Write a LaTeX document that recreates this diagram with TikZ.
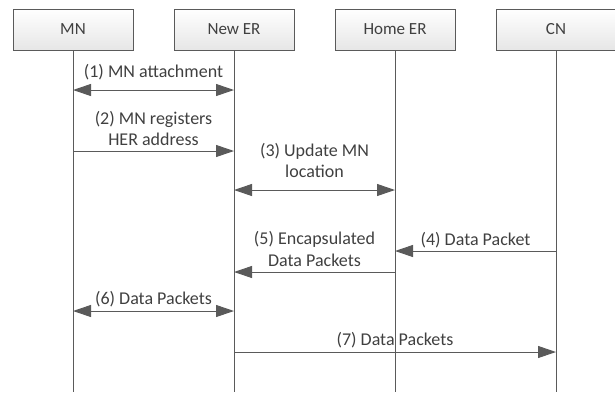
\documentclass[tikz,border=0pt]{standalone}
\usepackage{fontspec}
\setmainfont{Carlito}
\usetikzlibrary{arrows.meta}
\definecolor{linegray}{HTML}{5A5A5A}
\definecolor{textgray}{HTML}{404040}
\definecolor{boxbottom}{HTML}{E6E6E6}
\tikzset{
  actor/.style={draw=linegray, line width=1pt, top color=white, bottom color=boxbottom,
    minimum width=120pt, minimum height=41pt, inner sep=0pt,
    font=\fontsize{17}{21}\selectfont, text=textgray},
  lifeline/.style={draw=linegray, line width=1pt},
  msg/.style={draw=linegray, line width=1pt, -{Triangle[length=18pt,width=12pt]}},
  dmsg/.style={draw=linegray, line width=1pt, {Triangle[length=18pt,width=12pt]}-{Triangle[length=18pt,width=12pt]}},
  lbl/.style={font=\fontsize{18}{21.5}\selectfont, text=textgray, align=center, inner sep=0pt}
}
\begin{document}
\begin{tikzpicture}[x=1pt,y=-1pt]
\useasboundingbox (0,0) rectangle (615,392);
% actors
\node[actor] (mn)  at (73,29.5)  {MN};
\node[actor] (ner) at (234,29.5) {New ER};
\node[actor] (her) at (395,29.5) {Home ER};
\node[actor] (cn)  at (556,29.5) {CN};
% lifeline ends
\coordinate (mnend)  at (73,392);
\coordinate (nerend) at (234,392);
\coordinate (herend) at (395,392);
\coordinate (cnend)  at (556,392);
\draw[lifeline] (mn.south) -- (mnend);
\draw[lifeline] (ner.south) -- (nerend);
\draw[lifeline] (her.south) -- (herend);
\draw[lifeline] (cn.south) -- (cnend);
% (1)
\draw[dmsg] (mn |- 0,90) -- (ner |- 0,90);
\node[lbl] (l1) at (153.5,72) {(1) MN attachment};
% (2)
\draw[msg] (mn |- 0,151) -- (ner |- 0,151);
\node[lbl] (l2) at (153.5,128.5) {(2) MN registers\\HER address};
% (3)
\draw[dmsg] (ner |- 0,190) -- (her |- 0,190);
\node[lbl] (l3) at (314.5,160.5) {(3) Update MN\\location};
% (4)
\draw[msg] (cn |- 0,251) -- (her |- 0,251);
\node[lbl] (l4) at (475.5,240) {(4) Data Packet};
% (5)
\draw[msg] (her |- 0,272) -- (ner |- 0,272);
\node[lbl] (l5) at (314.5,249) {(5) Encapsulated\\Data Packets};
% (6)
\draw[dmsg] (mn |- 0,311) -- (ner |- 0,311);
\node[lbl] (l6) at (153.5,299) {(6) Data Packets};
% (7)
\draw[msg] (ner |- 0,352) -- (cn |- 0,352);
\node[lbl] (l7) at (395,340) {(7) Data Packets};
\end{tikzpicture}
\end{document}
